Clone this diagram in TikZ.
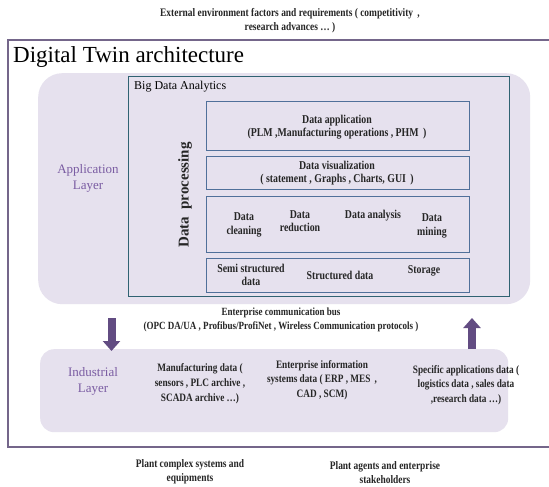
\documentclass[tikz,border=0pt]{standalone}
\usepackage{fontspec}
\setmainfont{Liberation Serif}
\newfontfamily\cond[FakeStretch=0.82]{Liberation Serif}
\usetikzlibrary{arrows.meta}
\definecolor{frameC}{HTML}{74668A}
\definecolor{layerC}{HTML}{E6E1EE}
\definecolor{bdaC}{HTML}{2F6272}
\definecolor{boxC}{HTML}{50709A}
\definecolor{purpT}{HTML}{7A5CA2}
\definecolor{arrowC}{HTML}{624C82}
\begin{document}
\begin{tikzpicture}[x=1pt,y=-1pt,
  lbl/.style={font=\cond\bfseries\fontsize{11.5}{14}\selectfont, align=center, inner sep=0pt, text=black!85},
  blbl/.style={lbl, font=\cond\bfseries\fontsize{12}{13.5}\selectfont},
  layertxt/.style={font=\fontsize{13}{16}\selectfont, align=center, inner sep=0pt, text=purpT},
  layerbox/.style={fill=layerC, draw=none, anchor=north west, inner sep=0pt},
  innerbox/.style={draw=boxC, line width=1.3pt, fill=layerC, anchor=north west, inner sep=0pt, minimum width=263pt},
  bigarrow/.style={draw=arrowC, line width=8pt, -{Triangle[width=17pt,length=10pt]}}]
\useasboundingbox (0,0) rectangle (549,487);
\fill[white] (0,0) rectangle (549,487);
% outer frame
\draw[frameC, line width=1.8pt] (552,40) -- (8,40) -- (8,447) -- (552,447);
\node[anchor=west, inner sep=0pt, font=\fontsize{23}{26}\selectfont] (title) at (13,57) {Digital Twin architecture};
% top / bottom texts
\node[lbl] (ext) at (290,21) {External environment factors and requirements ( competitivity \,,\\research advances \dots\ )};
\node[lbl] (plant1) at (190,472) {Plant complex systems and\\equipments};
\node[lbl] (plant2) at (385,473) {Plant agents and enterprise\\stakeholders};
% application layer
\node[layerbox, rounded corners=24pt, minimum width=492pt, minimum height=231pt] (app) at (38,73) {};
\node[layertxt] (applbl) at (88,178) {Application\\Layer};
\node[draw=bdaC, line width=1.3pt, fill=layerC, anchor=north west, inner sep=0pt, minimum width=381pt, minimum height=220pt] (bda) at (128,76) {};
\node[anchor=north west, inner sep=0pt, font=\fontsize{12}{14}\selectfont] (bdalbl) at (134,81) {Big Data Analytics};
\node[innerbox, minimum height=49pt] (b1) at (206,101) {};
\node[innerbox, minimum height=33pt] (b2) at (206,156) {};
\node[innerbox, minimum height=56pt] (b3) at (206,196) {};
\node[innerbox, minimum height=34pt] (b4) at (206,258) {};
\node[rotate=90, inner sep=0pt, font=\bfseries\fontsize{15}{16}\selectfont, text=black!85] (dp) at (185,195) {Data \ processing};
\node[blbl] (t1) at (337,127) {Data application\\(PLM ,Manufacturing operations , PHM \,)};
\node[blbl] (t2) at (337,173) {Data visualization\\( statement , Graphs , Charts, GUI \,)};
\node[blbl] (t3a) at (244,225) {Data\\cleaning};
\node[blbl] (t3b) at (300,221) {Data\\reduction};
\node[blbl] (t3c) at (373,216) {Data analysis};
\node[blbl] (t3d) at (432,226) {Data\\mining};
\node[blbl] (t4a) at (251,275) {Semi structured\\data};
\node[blbl] (t4b) at (340,275) {Structured data};
\node[blbl] (t4c) at (424,271) {Storage};
% bus
\node[lbl, font=\cond\bfseries\fontsize{11}{14}\selectfont] (bus) at (281,320) {Enterprise communication bus\\(OPC DA/UA , Profibus/ProfiNet , Wireless Communication protocols )};
% industrial layer
\node[layerbox, rounded corners=14pt, minimum width=468pt, minimum height=83pt] (ind) at (40,349) {};
\node[layertxt] (indlbl) at (93,381) {Industrial\\Layer};
\node[lbl, font=\cond\bfseries\fontsize{11.3}{15}\selectfont] (i1) at (200,384) {Manufacturing data (\\sensors , PLC archive ,\\SCADA archive \dots)};
\node[lbl, font=\cond\bfseries\fontsize{11.3}{14.5}\selectfont] (i2) at (322,380) {Enterprise information\\systems data ( ERP , MES \,,\\CAD , SCM)};
\node[lbl, font=\cond\bfseries\fontsize{11.3}{14.5}\selectfont] (i3) at (466,385) {Specific applications data (\\logistics data , sales data\\,research data \dots)};
% arrows
\coordinate (downS) at (111.5,318);
\coordinate (downE) at (111.5,351);
\coordinate (upS) at (472,349);
\coordinate (upE) at (472,318);
\draw[bigarrow] (downS) -- (downE);
\draw[bigarrow] (upS) -- (upE);
\end{tikzpicture}
\end{document}
